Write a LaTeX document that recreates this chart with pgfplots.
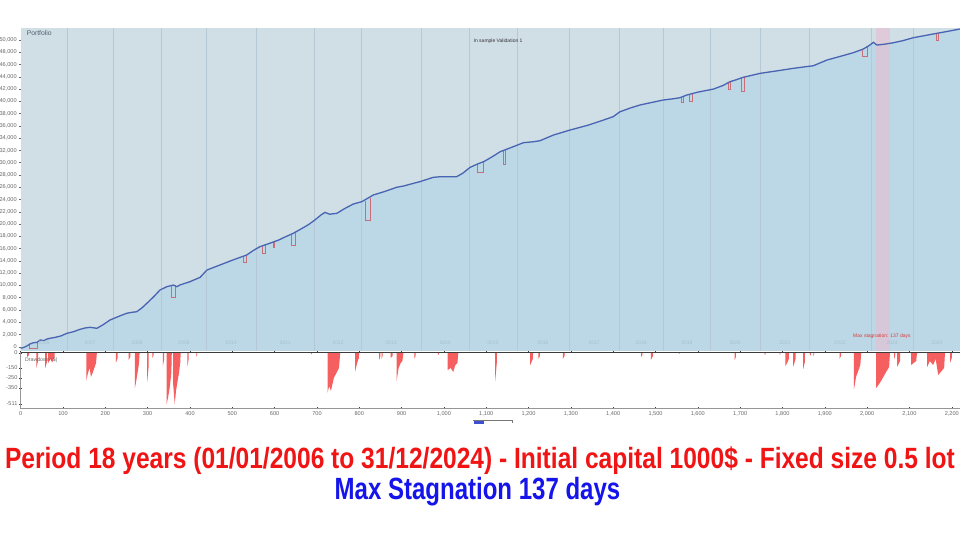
\documentclass[border=0pt]{standalone}
\usepackage{fontspec}
\setmainfont{Liberation Sans}
\usepackage{pgfplots}
\pgfplotsset{compat=1.18}
\usepackage{pgfplotstable}
\definecolor{bgtop}{RGB}{208,222,230}
\definecolor{under}{RGB}{188,215,229}
\definecolor{sepc}{RGB}{180,200,213}
\definecolor{eqblue}{RGB}{72,100,178}
\definecolor{dipred}{RGB}{200,110,120}
\definecolor{ddred}{RGB}{245,95,95}
\definecolor{tickgray}{RGB}{105,105,105}
\definecolor{yearc}{RGB}{168,192,206}
\definecolor{stag}{RGB}{232,190,208}
\definecolor{titlered}{RGB}{240,20,20}
\definecolor{titleblue}{RGB}{20,20,235}
\definecolor{portc}{RGB}{80,95,110}
\definecolor{darkt}{RGB}{50,50,50}
\definecolor{stagt}{RGB}{220,60,60}
\definecolor{axgray}{RGB}{150,150,150}
\definecolor{axdark}{RGB}{60,60,60}
\definecolor{scrollg}{RGB}{120,120,120}
\definecolor{scrollb}{RGB}{60,80,210}

\pgfplotstableread{
x y
0 -260
8 -100
14 100
22 450
30 650
38 700
46 1090
55 1000
62 1250
69 1370
80 1500
95 1750
109 2180
125 2450
140 2830
152 3050
164 3160
180 3000
195 3600
211 4350
230 4900
250 5440
262 5600
274 5700
286 6300
298 7070
315 8200
329 9240
345 9780
361 10060
369 9780
376 10060
400 10600
424 11310
440 12500
470 13300
500 14100
534 14950
550 15700
565 16300
590 16900
610 17400
625 17900
644 18480
660 19100
680 19900
695 20650
710 21500
719 21900
730 21600
747 21740
765 22500
786 23260
806 23640
820 24200
833 24730
860 25300
888 25980
905 26200
928 26630
943 26900
975 27610
990 27700
1007 27710
1030 27710
1045 28300
1062 29240
1080 29800
1095 30200
1115 31000
1133 31790
1160 32500
1188 33260
1210 33400
1227 33580
1259 34510
1298 35320
1340 36100
1377 36950
1400 37500
1416 38300
1440 38900
1463 39400
1490 39800
1518 40210
1540 40400
1558 40590
1574 41030
1600 41500
1637 42000
1660 42600
1676 43200
1690 43500
1707 43910
1747 44560
1790 45000
1826 45380
1850 45600
1873 45800
1890 46300
1905 46730
1935 47300
1967 47920
1990 48500
2005 49100
2015 49620
2023 49180
2040 49300
2062 49550
2085 49900
2109 50370
2135 50700
2164 51080
2190 51400
2219 51790
}\equity

\pgfplotsset{
  sep/.style={sepc, line width=0.6pt, forget plot},
  dip/.style={dipred, line width=0.6pt, forget plot},
}
\tikzset{yr/.style={font=\fontsize{5}{6}\selectfont, text=yearc}}

\begin{document}
\begin{tikzpicture}
\path[use as bounding box] (0pt,0pt) rectangle (960pt,540pt);
\fill[white] (0pt,0pt) rectangle (960pt,540pt);

% ---------- top panel ----------
\begin{axis}[
  at={(20.7pt,189pt)}, anchor=south west,
  scale only axis, width=939.3pt, height=323pt,
  xmin=0, xmax=2219.5, ymin=-700, ymax=51956,
  axis background/.style={fill=bgtop},
  hide x axis,
  axis y line*=left,
  y axis line style={draw=none},
  ytick={0,2000,...,50000},
  scaled y ticks=false,
  tick align=outside, major tick length=2pt,
  ytick style={draw=tickgray, line width=0.4pt},
  yticklabel style={font=\fontsize{5.6}{6}\selectfont, color=tickgray, xshift=1.5pt},
  /pgf/number format/assume math mode=true,
  /pgf/number format/1000 sep={,},
]
\addplot[fill=under, draw=none, forget plot] table[x=x,y=y] {\equity} |- (axis cs:0,-700);
% max stagnation band
\addplot[fill=stag, fill opacity=0.6, draw=none, forget plot] coordinates {(2021,-700) (2021,51956) (2054,51956) (2054,-700)};
% year separators
\addplot[sep] coordinates {(109.4,-700) (109.4,51956)};
\addplot[sep] coordinates {(218.1,-700) (218.1,51956)};
\addplot[sep] coordinates {(331.5,-700) (331.5,51956)};
\addplot[sep] coordinates {(439.5,-700) (439.5,51956)};
\addplot[sep] coordinates {(556,-700) (556,51956)};
\addplot[sep] coordinates {(693.8,-700) (693.8,51956)};
\addplot[sep] coordinates {(804.1,-700) (804.1,51956)};
\addplot[sep] coordinates {(947.5,-700) (947.5,51956)};
\addplot[sep] coordinates {(1059.3,-700) (1059.3,51956)};
\addplot[sep] coordinates {(1173.5,-700) (1173.5,51956)};
\addplot[sep] coordinates {(1296.3,-700) (1296.3,51956)};
\addplot[sep] coordinates {(1414.5,-700) (1414.5,51956)};
\addplot[sep] coordinates {(1518.4,-700) (1518.4,51956)};
\addplot[sep] coordinates {(1628.8,-700) (1628.8,51956)};
\addplot[sep] coordinates {(1748.6,-700) (1748.6,51956)};
\addplot[sep] coordinates {(1862.7,-700) (1862.7,51956)};
\addplot[sep] coordinates {(2010.9,-700) (2010.9,51956)};
\addplot[sep] coordinates {(2109.2,-700) (2109.2,51956)};
% red open-equity dips
\addplot[dip] coordinates {(20,500) (20,-200) (40,-200) (40,700)};
\addplot[dip] coordinates {(355,10000) (355,8000) (365,8000) (365,10000)};
\addplot[dip] coordinates {(525,14800) (525,13700) (532,13700) (532,14900)};
\addplot[dip] coordinates {(570,16400) (570,15200) (578,15200) (578,16600)};
\addplot[dip] coordinates {(597,17000) (597,16200) (600,16200) (600,17100)};
\addplot[dip] coordinates {(640,18400) (640,16500) (648,16500) (648,18600)};
\addplot[dip] coordinates {(815,23800) (815,20600) (826,20600) (826,24200)};
\addplot[dip] coordinates {(1080,29800) (1080,28500) (1092,28500) (1092,30100)};
\addplot[dip] coordinates {(1140,31900) (1140,29800) (1145,29800) (1145,32000)};
\addplot[dip] coordinates {(1560,40600) (1560,39900) (1565,39900) (1565,40700)};
\addplot[dip] coordinates {(1580,41100) (1580,40000) (1586,40000) (1586,41200)};
\addplot[dip] coordinates {(1671,43000) (1671,42000) (1676,42000) (1676,43200)};
\addplot[dip] coordinates {(1702,43800) (1702,41600) (1710,41600) (1710,43950)};
\addplot[dip] coordinates {(1988,48400) (1988,47400) (2000,47400) (2000,48800)};
\addplot[dip] coordinates {(2163,51000) (2163,50000) (2168,50000) (2168,51100)};
% equity line
\addplot[eqblue, line width=1.3pt, forget plot] table[x=x,y=y] {\equity};
% year labels
\node[yr] at (axis cs:55,600) {2006};
\node[yr] at (axis cs:164,600) {2007};
\node[yr] at (axis cs:275,600) {2008};
\node[yr] at (axis cs:386,600) {2009};
\node[yr] at (axis cs:497,600) {2010};
\node[yr] at (axis cs:625,600) {2011};
\node[yr] at (axis cs:750,600) {2012};
\node[yr] at (axis cs:875,600) {2013};
\node[yr] at (axis cs:1003,600) {2014};
\node[yr] at (axis cs:1116,600) {2015};
\node[yr] at (axis cs:1234,600) {2016};
\node[yr] at (axis cs:1355,600) {2017};
\node[yr] at (axis cs:1466,600) {2018};
\node[yr] at (axis cs:1574,600) {2019};
\node[yr] at (axis cs:1688,600) {2020};
\node[yr] at (axis cs:1806,600) {2021};
\node[yr] at (axis cs:1936,600) {2022};
\node[yr] at (axis cs:2059,600) {2023};
\node[yr] at (axis cs:2165,600) {2024};
\node[anchor=west, font=\fontsize{6.8}{7}\selectfont, text=portc] at (axis cs:6,51140) {Portfolio};
\node[font=\fontsize{5}{6}\selectfont, text=darkt] at (axis cs:1128,49837) {In sample Validation 1};
\node[font=\fontsize{5}{6}\selectfont, text=stagt] at (axis cs:2035,1744) {Max stagnation: 137 days};
\end{axis}

% ---------- drawdown panel ----------
\begin{axis}[
  at={(20.7pt,132pt)}, anchor=south west,
  scale only axis, width=939.3pt, height=56pt,
  xmin=0, xmax=2219.5, ymin=-551, ymax=10,
  axis background/.style={fill=white},
  axis line style={draw=axgray, line width=0.5pt},
  xtick={0,100,...,2200},
  ytick={0,-150,-250,-350,-511},
  scaled ticks=false,
  tick align=center, major tick length=2.5pt,
  tick style={draw=axdark, line width=0.5pt},
  xtick pos=both,
  ytick pos=left,
  xticklabel style={font=\fontsize{5.6}{6}\selectfont, color=tickgray, yshift=1pt},
  yticklabel style={font=\fontsize{5.6}{6}\selectfont, color=tickgray, xshift=1.5pt},
  /pgf/number format/assume math mode=true,
  /pgf/number format/1000 sep={,},
]
\addplot[fill=ddred, draw=none, forget plot] coordinates {
(0,0)
(15,0)(15,-40)(20,-20)(20,0)
(37,0)(37,-150)(41,-80)(41,0)
(58,0)(58,-150)(62,-90)(62,0)
(65,0)(65,-100)(70,-60)(75,-90)(80,-40)(80,0)
(155,0)(155,-277)(159,-200)(163,-150)(166,-240)(170,-200)(174,-150)(178,-100)(180,0)
(225,0)(225,-97)(229,-50)(229,0)
(255,0)(255,-70)(259,-40)(259,0)
(270,0)(270,-350)(273,-280)(276,-200)(279,-120)(281,0)
(299,0)(299,-287)(302,-150)(302,0)
(311,0)(311,-50)(314,-20)(314,0)
(336,0)(336,-130)(339,-60)(339,0)
(345,0)(345,-511)(348,-450)(352,-350)(356,-200)(357,0)
(360,0)(360,-300)(364,-511)(367,-380)(370,-300)(374,-200)(377,-100)(378,0)
(394,0)(394,-130)(397,-60)(397,0)
(415,0)(415,-40)(417,-20)(417,0)
(686,0)(686,-12)(688,-5)(688,0)
(725,0)(725,-400)(729,-330)(733,-380)(740,-250)(746,-200)(752,-150)(755,0)
(790,0)(790,-187)(795,-100)(799,-50)(800,0)
(847,0)(847,-70)(850,-30)(850,0)
(853,0)(853,-60)(855,-30)(855,0)
(874,0)(874,-50)(879,-30)(879,0)
(888,0)(888,-287)(893,-150)(898,-100)(902,-80)(904,0)
(930,0)(930,-60)(933,-30)(933,0)
(986,0)(986,-20)(988,-10)(988,0)
(1009,0)(1009,-170)(1016,-150)(1022,-190)(1027,-120)(1032,-100)(1034,0)
(1121,0)(1121,-287)(1125,-100)(1125,0)
(1204,0)(1204,-120)(1210,-60)(1210,0)
(1223,0)(1223,-60)(1227,-30)(1227,0)
(1281,0)(1281,-60)(1285,-30)(1285,0)
(1466,0)(1466,-40)(1469,-20)(1469,0)
(1489,0)(1489,-70)(1494,-30)(1494,0)
(1555,0)(1555,-10)(1557,-5)(1557,0)
(1687,0)(1687,-70)(1690,-40)(1690,0)
(1758,0)(1758,-20)(1760,-10)(1760,0)
(1793,0)(1793,-20)(1795,-10)(1795,0)
(1807,0)(1807,-130)(1811,-100)(1815,-60)(1815,0)
(1825,0)(1825,-140)(1829,-90)(1831,-60)(1831,0)
(1849,0)(1849,-160)(1853,-90)(1853,0)
(1865,0)(1865,-30)(1867,-15)(1867,0)
(1873,0)(1873,-30)(1875,-15)(1875,0)
(1935,0)(1935,-60)(1938,-30)(1938,0)
(1969,0)(1969,-363)(1974,-237)(1979,-180)(1984,-120)(1986,0)
(2021,0)(2021,-353)(2030,-300)(2037,-250)(2045,-190)(2052,-140)(2054,0)
(2064,0)(2064,-60)(2066,-30)(2066,0)
(2071,0)(2071,-137)(2078,-80)(2078,0)
(2104,0)(2104,-120)(2110,-100)(2116,-80)(2118,0)
(2142,0)(2142,-140)(2148,-80)(2156,-120)(2162,-60)(2168,-220)(2176,-180)(2182,-150)(2184,0)
(2196,0)(2196,-100)(2200,-50)(2200,0)
(2219,0)
};
\draw[axdark, line width=0.8pt] (rel axis cs:0,1) -- (rel axis cs:1,1);
\node[anchor=west, font=\fontsize{5.2}{6}\selectfont, text=tickgray] at (rel axis cs:0.001,0.86) {Drawdown (\$)};
\end{axis}

% scrollbar icon
\draw[scrollg, line width=0.5pt] (473pt,120pt) -- (512pt,120pt) -- (512pt,117pt);
\fill[scrollb] (474pt,116pt) rectangle (484pt,118.5pt);

% captions
\node[anchor=base, inner sep=0pt, text=titlered] at (480pt,71pt) {\scalebox{0.838}[1]{\fontsize{29.3}{32}\selectfont\bfseries Period 18 years (01/01/2006 to 31/12/2024) - Initial capital 1000\$ - Fixed size 0.5 lot}};
\node[anchor=base, inner sep=0pt, text=titleblue] at (477.5pt,40pt) {\scalebox{0.782}[1]{\fontsize{30.7}{33}\selectfont\bfseries Max Stagnation 137 days}};
\end{tikzpicture}
\end{document}
